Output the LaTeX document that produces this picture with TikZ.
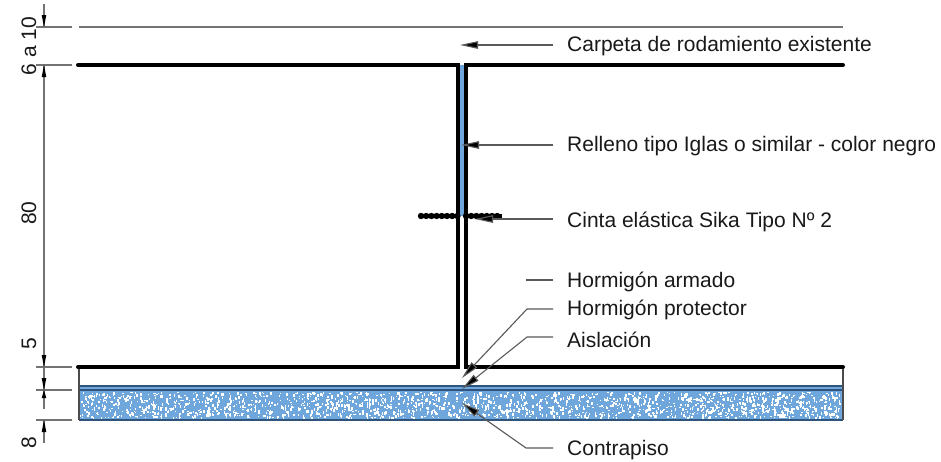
\documentclass[tikz,border=0pt]{standalone}
\usepackage{fontspec}
\setmainfont{Liberation Sans}
\usetikzlibrary{arrows.meta}
\definecolor{fillblue}{HTML}{6FA6DC}
\definecolor{edgeblue}{HTML}{2F557F}
\tikzset{
 x=1pt,y=-1pt,
 lab/.style={anchor=west,inner sep=0pt,font=\fontsize{21}{24}\selectfont,text=black!90},
 dimtxt/.style={inner sep=0pt,rotate=90,font=\fontsize{21}{24}\selectfont,text=black!90},
 thick line/.style={line width=4pt,black},
 dimline/.style={line width=1.2pt,black!55},
 leader/.style={line width=1.1pt,black!65},
 tip/.style={-{Triangle[length=18pt,width=7.5pt,fill=black]}},
}
\begin{document}
\begin{tikzpicture}
\useasboundingbox (0,0) rectangle (941,461);
\fill[white] (0,0) rectangle (941,461);
% named points
\coordinate (t1a) at (36,27); \coordinate (t1b) at (72,27); \coordinate (t1c) at (79,27); \coordinate (t1d) at (843,27);
\coordinate (t2a) at (36,65); \coordinate (t2b) at (72,65);
\coordinate (t3a) at (36,367); \coordinate (t3b) at (72,367);
\coordinate (t4a) at (36,390); \coordinate (t4b) at (72,390);
\coordinate (t5a) at (36,420); \coordinate (t5b) at (72,420);
% contrapiso fill
\fill[fillblue] (79,386) rectangle (843,420);
\pgfmathsetseed{4711}
\foreach \i in {1,...,1800}{
 \pgfmathsetmacro{\px}{int(80+rnd*762)}
 \pgfmathsetmacro{\py}{int(392+rnd*26)}
 \pgfmathsetmacro{\pw}{1+int(rnd*2)}
 \pgfmathsetmacro{\ph}{1+int(rnd*3)}
 \fill[white] (\px,\py) rectangle (\px+\pw,\py+\ph);
}
\draw[edgeblue,line width=1.4pt] (79,386) -- (843,386);
\draw[edgeblue,line width=1.4pt] (79,390) -- (843,390);
\draw[edgeblue,line width=1.8pt] (79,420) -- (843,420);
\draw[black!70,line width=1.2pt] (79,367) -- (79,420);
\draw[black!70,line width=1.2pt] (843,367) -- (843,420);
% joint
\fill[fillblue] (459,65) rectangle (464,216);
\draw[thick line,line cap=round,line join=miter] (78,65) -- (457.5,65) -- (457.5,367) -- (78,367);
\draw[thick line,line cap=round,line join=miter] (843,65) -- (465.5,65) -- (465.5,367) -- (843,367);
% cinta
\draw[black,line width=6.4pt,line cap=round,dash pattern=on 0pt off 5.2pt] (421,216) -- (458,216);
\draw[black,line width=3.6pt] (421,216) -- (458,216);
\draw[black,line width=6.4pt,line cap=round,dash pattern=on 0pt off 5.2pt] (466,216) -- (502,216);
\draw[black,line width=3.6pt] (466,216) -- (502,216);
% dimension lines
\draw[dimline] (t1a) -- (t1b);
\draw[dimline] (t1c) -- (t1d);
\draw[dimline] (t2a) -- (t2b);
\draw[dimline] (t3a) -- (t3b);
\draw[dimline] (t4a) -- (t4b);
\draw[dimline] (t5a) -- (t5b);
\coordinate (d0) at (44,4); \coordinate (d1) at (44,27); \coordinate (d2) at (44,65); \coordinate (d3) at (44,367);
\coordinate (d4b) at (44,409); \coordinate (d5) at (44,420); \coordinate (d6) at (44,443);
\draw[dimline] (d0) -- (d1);
\draw[dimline] (d2) -- (d3);
\draw[dimline] (d3) -- (d4b);
\draw[dimline] (d5) -- (d6);
\fill (44,27) -- (41.7,15) -- (46.3,15) -- cycle;
\fill (44,65) -- (41.7,77) -- (46.3,77) -- cycle;
\fill (44,367) -- (41.7,355) -- (46.3,355) -- cycle;
\fill (44,390) -- (41.7,378) -- (46.3,378) -- cycle;
\fill (44,390) -- (41.7,398) -- (46.3,398) -- cycle;
\fill (44,420) -- (41.7,432) -- (46.3,432) -- cycle;
% dim texts
\node[dimtxt] (n1) at (29,46) {6 a 10};
\node[dimtxt] (n2) at (29,213) {80};
\node[dimtxt] (n3) at (29,344) {5};
\node[dimtxt] (n4) at (29,443) {8};
% labels
\node[lab] (a) at (567,46.5) {Carpeta de rodamiento existente};
\node[lab] (b) at (567,146.5) {Relleno tipo Iglas o similar - color negro};
\node[lab] (c) at (567,221.5) {Cinta elástica Sika Tipo Nº 2};
\node[lab] (d) at (567,281.5) {Hormigón armado};
\node[lab] (e) at (567,309.5) {Hormigón protector};
\node[lab] (f) at (567,339.5) {Aislación};
\node[lab] (g) at (567,450.5) {Contrapiso};
% leaders
\coordinate (A) at (460,45); \coordinate (B) at (461,145); \coordinate (C) at (475,219);
\coordinate (E) at (462,378); \coordinate (F) at (462,389); \coordinate (G) at (462,403);
\coordinate (a1) at (553,45); \coordinate (b1) at (553,145); \coordinate (c1) at (553,219);
\coordinate (d0p) at (526,280); \coordinate (d1p) at (553,280);
\coordinate (e1) at (553,309); \coordinate (e2) at (527,309);
\coordinate (f1) at (553,337); \coordinate (f2) at (527,337);
\coordinate (g1) at (553,448); \coordinate (g2) at (526,448);
\draw[leader,tip] (a1) -- (A);
\draw[leader,tip] (b1) -- (B);
\draw[leader,tip] (c1) -- (C);
\draw[leader] (d0p) -- (d1p);
\draw[leader,tip] (e1) -- (e2) -- (E);
\draw[leader,tip] (f1) -- (f2) -- (F);
\draw[leader,tip] (g1) -- (g2) -- (G);
\end{tikzpicture}
\end{document}
